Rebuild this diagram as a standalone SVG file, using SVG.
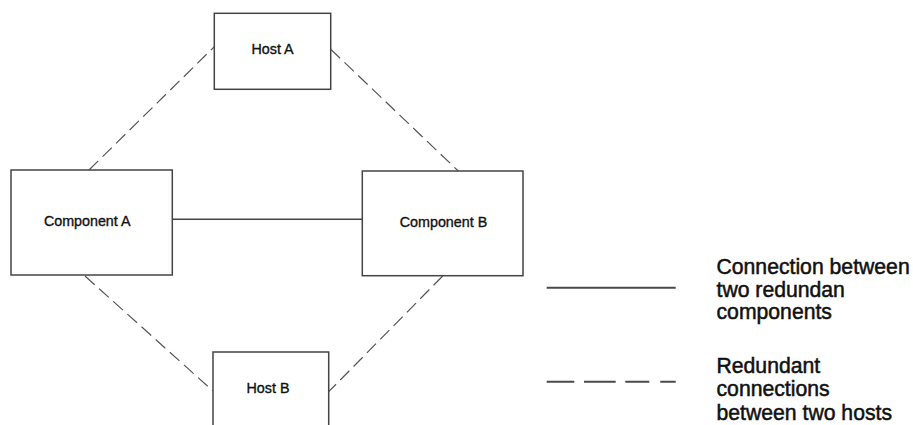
<svg xmlns="http://www.w3.org/2000/svg" width="913" height="425" viewBox="0 0 913 425">
  <style>
    .box { fill: #ffffff; stroke: #444444; stroke-width: 1.5; }
    .label { font-family: "Liberation Sans", Arial, sans-serif; font-size: 14.3px; fill: #111111; stroke: #111111; stroke-width: 0.35; text-anchor: middle; }
    .solid { stroke: #444444; stroke-width: 1.5; fill: none; }
    .dashed { stroke: #555555; stroke-width: 1.2; fill: none; stroke-dasharray: 13 6; }
    .legend-line { stroke: #4a4a4a; stroke-width: 2; fill: none; }
    .legend-text { font-family: "Liberation Sans", Arial, sans-serif; font-size: 21.2px; fill: #111111; stroke: #111111; stroke-width: 0.5; }
  </style>
  <rect width="913" height="425" fill="#ffffff"/>

  <!-- connectors -->
  <g id="connectors">
    <line class="solid" x1="172" y1="219.3" x2="362.5" y2="219.3"/>
    <line class="dashed" x1="89" y1="170" x2="214.3" y2="46.7"/>
    <line class="dashed" x1="330.7" y1="49.3" x2="458.3" y2="171"/>
    <line class="dashed" x1="85" y1="276" x2="213" y2="391"/>
    <line class="dashed" x1="442.7" y1="276" x2="328.7" y2="391.7"/>
  </g>

  <!-- nodes -->
  <g id="host-a">
    <rect class="box" x="214.3" y="13.3" width="116.4" height="76"/>
    <text class="label" x="272.6" y="54.3">Host A</text>
  </g>
  <g id="component-a">
    <rect class="box" x="11" y="170" width="161.3" height="105"/>
    <text class="label" x="87.2" y="226">Component A</text>
  </g>
  <g id="component-b">
    <rect class="box" x="362.3" y="171" width="160.7" height="104.7"/>
    <text class="label" x="443.5" y="226.7">Component B</text>
  </g>
  <g id="host-b">
    <rect class="box" x="213" y="352" width="115.7" height="90"/>
    <text class="label" x="268" y="392.7">Host B</text>
  </g>

  <!-- legend -->
  <g id="legend">
    <line class="legend-line" x1="546.7" y1="287.7" x2="675.7" y2="287.7"/>
    <path class="legend-line" d="M546.7 381.7H574.3M584 381.7H615.7M625.3 381.7H649.3M660.3 381.7H675.7"/>
    <text class="legend-text" x="716.5" y="274">Connection between</text>
    <text class="legend-text" x="716.5" y="296.5">two redundan</text>
    <text class="legend-text" x="716.5" y="319">components</text>
    <text class="legend-text" x="716.5" y="373">Redundant</text>
    <text class="legend-text" x="716.5" y="396">connections</text>
    <text class="legend-text" x="716.5" y="419.5">between two hosts</text>
  </g>
</svg>
